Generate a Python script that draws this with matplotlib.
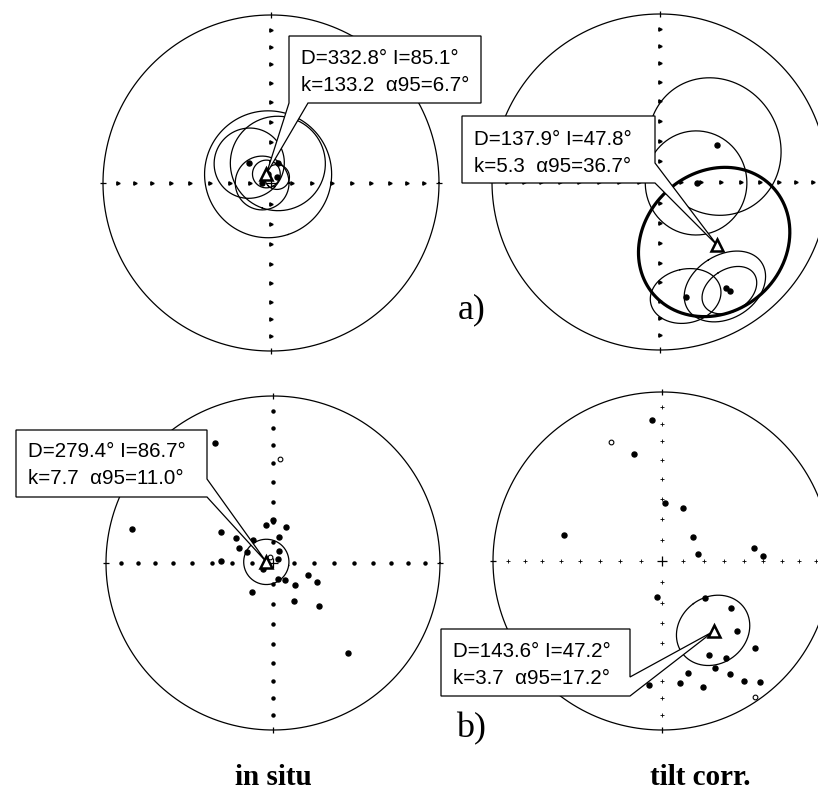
import numpy as np
import matplotlib
matplotlib.use("Agg")
import matplotlib.pyplot as plt
from matplotlib.patches import Polygon

# site means, set a (dec, inc, a95), in situ and tilt corrected
a_situ_dec = [312.3, 19.3, 341.6, 270.0, 45.0]
a_situ_inc = [75.6, 79.8, 85.4, 85.7, 85.9]
a_situ_a95 = [17, 23, 31, 13, 6]

a_tilt_dec = [57.0, 91.5, 167.3, 148.1, 147.3]
a_tilt_inc = [56.7, 72.1, 30.5, 26.6, 24.0]
a_tilt_a95 = [33, 25, 15, 18, 12]

# specimen directions, set b (negative inc = upper hemisphere)
b_situ_dec = [334.2, 3.9, 283.6, 0.0, 349.6, 19.9, 300.8, 304.0, 13.0, 293.8,
              292.9, 319.0, 26.6, 272.2, 51.3, 239.0, 215.9, 162.6, 144.8, 135.0,
              108.9, 113.4, 151.1, 133.1, 140.2, 333.0]
b_situ_inc = [21.3, -37.6, 14.3, 69.0, 71.1, 71.3, 60.3, 68.1, 77.0, 71.8,
              76.2, 75.1, 83.5, 64.6, 86.9, 84.3, 72.5, 81.9, 79.9, 74.8,
              71.9, 66.6, 68.8, 59.0, 30.5, -86.7]

b_tilt_dec = [355.9, 336.8, 345.3, 3.0, 21.6, 284.9, 52.3, 79.0, 82.0, 87.2,
              187.9, 130.7, 124.3, 133.0, 133.1, 153.4, 146.6, 153.7, 166.9, 149.0,
              145.7, 141.0, 171.6, 162.0, 186.0, 145.6]
b_tilt_inc = [17.4, -24.4, 34.9, 61.8, 62.4, 39.8, 71.0, 72.3, 44.2, 40.0,
              72.5, 62.5, 49.1, 39.2, 25.5, 37.8, 31.8, 30.1, 32.6, 23.0,
              15.1, 8.8, 27.9, 22.6, 27.1, -2.8]

# Fisher means: D, I, k, a95
mean_a_situ = (332.8, 85.1, 133.2, 6.7)
mean_a_tilt = (137.9, 47.8, 5.3, 36.7)
mean_b_situ = (279.4, 86.7, 7.7, 11.0)
mean_b_tilt = (143.6, 47.2, 3.7, 17.2)

W, H = 818, 800
fig = plt.figure(figsize=(W / 100, H / 100), dpi=100)
SANS = ["Liberation Sans", "DejaVu Sans"]
SERIF = ["Liberation Serif", "DejaVu Serif"]


def proj(dec, inc):
    """Equal-area (Schmidt) projection, returns x (east), y (north)."""
    d = np.radians(np.asarray(dec, float))
    i = np.radians(np.abs(np.asarray(inc, float)))
    r = np.sqrt(2) * np.sin((np.pi / 2 - i) / 2)
    return r * np.sin(d), r * np.cos(d)


def cone(dec, inc, a95, n=241):
    d, i, a = np.radians([dec, inc, a95])
    v = np.array([np.cos(i) * np.cos(d), np.cos(i) * np.sin(d), np.sin(i)])
    u = np.array([-np.sin(i) * np.cos(d), -np.sin(i) * np.sin(d), np.cos(i)])
    w = np.cross(v, u)
    t = np.linspace(0, 2 * np.pi, n)
    p = np.cos(a) * v[:, None] + np.sin(a) * (np.outer(u, np.cos(t)) + np.outer(w, np.sin(t)))
    dd = np.degrees(np.arctan2(p[1], p[0]))
    ii = np.degrees(np.arcsin(np.clip(p[2], -1, 1)))
    return proj(dd, ii)


class Net:
    def __init__(self, cx, cy, R, tick="dot", L=1.3):
        self.cx, self.cy, self.R = cx, cy, R
        self.ax = fig.add_axes([(cx - L * R) / W, (H - cy - L * R) / H, 2 * L * R / W, 2 * L * R / H])
        ax = self.ax
        ax.set_xlim(-L, L)
        ax.set_ylim(-L, L)
        ax.set_aspect("equal")
        ax.axis("off")
        t = np.linspace(0, 2 * np.pi, 400)
        ax.plot(np.cos(t), np.sin(t), color="black", lw=0.9, zorder=2)
        r = np.sqrt(2) * np.sin(np.radians(90 - np.arange(10, 90, 10)) / 2)
        z = np.zeros_like(r)
        xs = np.concatenate([r, -r, z, z])
        ys = np.concatenate([z, z, r, -r])
        if tick == "arrow":
            ax.plot(xs, ys, ls="none", marker=">", ms=2.4, color="black", zorder=2)
        elif tick == "plus":
            ax.plot(xs, ys, ls="none", marker="+", ms=3.5, mew=0.6, color="black", zorder=2)
        else:
            ax.plot(xs, ys, ls="none", marker="o", ms=2.2, color="black", zorder=2)
        ax.plot([0, 0], [-1, 1], ls="none", marker="|", ms=5, mew=0.9, color="black", zorder=2)
        ax.plot([-1, 1], [0, 0], ls="none", marker="_", ms=5, mew=0.9, color="black", zorder=2)
        ax.plot([0], [0], marker="+", ms=7, mew=0.9, color="black", zorder=2)

    def u(self, px, py):
        return (px - self.cx) / self.R, (self.cy - py) / self.R

    def points(self, dec, inc):
        dec, inc = np.asarray(dec), np.asarray(inc)
        x, y = proj(dec, inc)
        down = inc >= 0
        self.ax.plot(x[down], y[down], ls="none", marker="o", ms=3.6, color="black", zorder=3)
        self.ax.plot(x[~down], y[~down], ls="none", marker="o", ms=3.4, mfc="white",
                     mec="black", mew=0.8, zorder=3)

    def circles(self, dec, inc, a95):
        for d, i, a in zip(dec, inc, a95):
            x, y = cone(d, i, a)
            self.ax.plot(x, y, color="black", lw=0.9, zorder=2)

    def mean(self, m, outline, lines, text_xy, thick=False):
        d, i, k, a = m
        x, y = cone(d, i, a)
        self.ax.plot(x, y, color="black", lw=2.3 if thick else 0.9, zorder=2)
        mx, my = proj(d, i)
        verts = [self.u(*p) if p != "tip" else (float(mx), float(my)) for p in outline]
        self.ax.add_patch(Polygon(verts, closed=True, fc="white", ec="black", lw=0.9,
                                  zorder=4, clip_on=False))
        tx, ty = text_xy
        for n, s in enumerate(lines):
            self.ax.text(*self.u(tx, ty + n * 27), s, fontsize=14.8, family=SANS,
                         va="baseline", ha="left", zorder=5, clip_on=False)
        self.ax.plot([mx], [my], marker="^", ms=8.5, mfc="white", mec="black", mew=1.8,
                     zorder=6, clip_on=False)


def labels(m):
    d, i, k, a = m
    return [f"D={d:.1f}° I={i:.1f}°", f"k={k:.1f}  α95={a:.1f}°"]


# a) in situ
n1 = Net(271, 183, 168, tick="arrow")
n1.circles(a_situ_dec, a_situ_inc, a_situ_a95)
n1.points(a_situ_dec, a_situ_inc)
n1.mean(mean_a_situ,
        [(289, 36), (481, 36), (481, 103), (308, 103), "tip", (289, 103)],
        labels(mean_a_situ), (301, 64))

# a) tilt corrected
n2 = Net(660, 182, 168, tick="arrow")
n2.circles(a_tilt_dec, a_tilt_inc, a_tilt_a95)
n2.points(a_tilt_dec, a_tilt_inc)
n2.mean(mean_a_tilt,
        [(462, 116), (655, 116), (655, 163), "tip", (655, 183), (462, 183)],
        labels(mean_a_tilt), (474, 145), thick=True)

# b) in situ
n3 = Net(273, 563, 167, tick="dot")
n3.points(b_situ_dec, b_situ_inc)
n3.mean(mean_b_situ,
        [(16, 430), (207, 430), (207, 479), "tip", (207, 497), (16, 497)],
        labels(mean_b_situ), (28, 457))

# b) tilt corrected
n4 = Net(662, 561, 169, tick="plus")
n4.points(b_tilt_dec, b_tilt_inc)
n4.mean(mean_b_tilt,
        [(441, 629), (630, 629), (630, 677), "tip", (630, 696), (441, 696)],
        labels(mean_b_tilt), (453, 657))

fig.text(486 / W, 1 - 318 / H, "a)", fontsize=26, family=SERIF, ha="right", va="baseline")
fig.text(486 / W, 1 - 737 / H, "b)", fontsize=26, family=SERIF, ha="right", va="baseline")
fig.text(273 / W, 1 - 785 / H, "in situ", fontsize=21, family=SERIF, weight="bold",
         ha="center", va="baseline")
fig.text(700 / W, 1 - 785 / H, "tilt corr.", fontsize=21, family=SERIF, weight="bold",
         ha="center", va="baseline")

fig.savefig("out.png", dpi=100)
